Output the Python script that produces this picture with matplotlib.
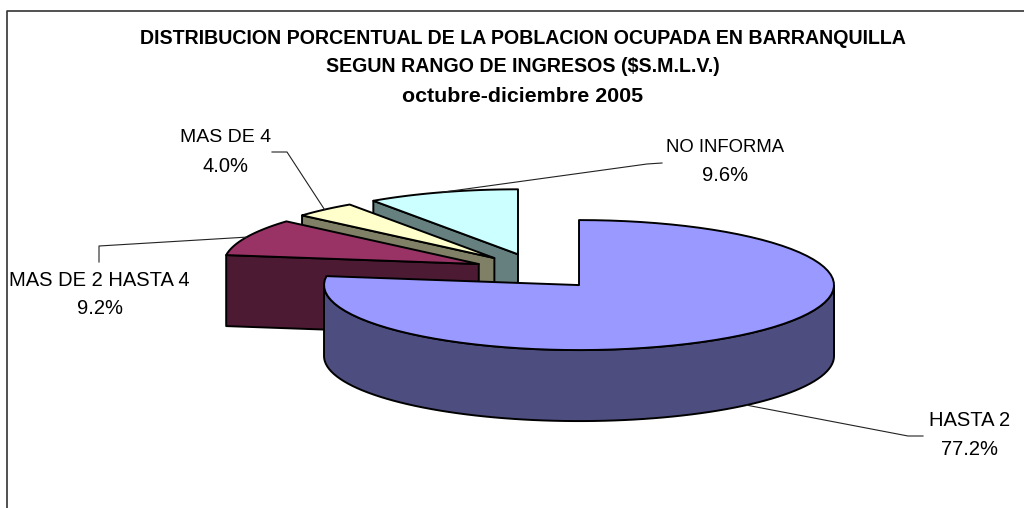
# 3D style pie chart, ingresos Barranquilla
import numpy as np
import matplotlib
matplotlib.use("Agg")
import matplotlib.pyplot as plt
from matplotlib.patches import Polygon

plt.rcParams['font.family'] = ['Liberation Sans', 'DejaVu Sans']

title_lines = ["DISTRIBUCION PORCENTUAL DE LA POBLACION OCUPADA EN BARRANQUILLA",
               "SEGUN RANGO DE INGRESOS ($S.M.L.V.)",
               "octubre-diciembre 2005"]
categories = ["HASTA 2", "MAS DE 2 HASTA 4", "MAS DE 4", "NO INFORMA"]
values = [77.2, 9.2, 4.0, 9.6]
top_colors = ["#9999FF", "#993366", "#FFFFCC", "#CCFFFF"]
side_colors = ["#4D4D80", "#4D1A33", "#808066", "#668080"]

# pie geometry in pixels
cx, cy = 537, 271.5
rx, ry = 255, 65
depth = 71
ex, ey = 64, 18  # explosion

# label centre, size and leader elbows for each slice
label_pos = [(969.5, 420), (99.5, 279), (225.5, 137), (725.5, 146)]
label_size = [14.5, 14.5, 14, 13.3]
elbows = [[(908, 436), (923, 436)],
          [(99, 246), (99, 262)],
          [(287, 152), (272, 152)],
          [(647, 164), (662, 163)]]


def arc(x0, y0, t0, t1, n=80):
    t = np.radians(np.linspace(t0, t1, n))
    return np.column_stack([x0 + rx * np.sin(t), y0 - ry * np.cos(t)])


fig = plt.figure(figsize=(10.24, 5.08), dpi=100)
ax = fig.add_axes([0, 0, 1, 1])
ax.set_xlim(0, 1024)
ax.set_ylim(508, 0)
ax.axis('off')

# outer frame, only left and top survive the crop
ax.plot([7, 7, 1024], [508, 11, 11], color='#333333', lw=1.2)

edges = np.cumsum([0] + values) * 3.6
slices = []
for i in range(len(values)):
    t0, t1 = edges[i], edges[i + 1]
    mid = np.radians((t0 + t1) / 2)
    x0 = cx + ex * np.sin(mid)
    y0 = cy - ey * np.cos(mid)
    slices.append((i, t0, t1, mid, x0, y0))

# back to front
for i, t0, t1, mid, x0, y0 in [slices[3], slices[2], slices[1], slices[0]]:
    lw = 1.4
    # radial wall on the start edge, faces the viewer for the back slices
    if i > 0:
        p = arc(x0, y0, t0, t0, 1)[0]
        wall = [(x0, y0), tuple(p), (p[0], p[1] + depth), (x0, y0 + depth)]
        ax.add_patch(Polygon(wall, fc=side_colors[i], ec='black', lw=lw, joinstyle='round'))
    # outer wall, only the front half of the ellipse
    a0, a1 = max(t0, 90), min(t1, 270)
    if a1 > a0:
        top = arc(x0, y0, a0, a1)
        bottom = top[::-1] + [0, depth]
        ax.add_patch(Polygon(np.vstack([top, bottom]), fc=side_colors[i], ec='black', lw=lw))
    face = np.vstack([[(x0, y0)], arc(x0, y0, t0, t1)])
    ax.add_patch(Polygon(face, fc=top_colors[i], ec='black', lw=lw, joinstyle='round'))

# labels and leader lines
for i, t0, t1, mid, x0, y0 in slices:
    ax_x = x0 + rx * np.sin(mid)
    ax_y = y0 - ry * np.cos(mid)
    if 90 < np.degrees(mid) < 270:
        ax_y += depth
    pts = [(ax_x, ax_y)] + elbows[i]
    ax.plot([p[0] for p in pts], [p[1] for p in pts], color='#222222', lw=0.8, zorder=5)
    lx, ly = label_pos[i]
    ax.text(lx, ly + 1, categories[i], ha='center', va='center', fontsize=label_size[i], color='black')
    ax.text(lx, ly + 29.5, f"{values[i]:.1f}%", ha='center', va='center', fontsize=14.5, color='black')

for line, y, size in zip(title_lines, [38, 67, 96], [14.1, 14.1, 15.4]):
    ax.text(523, y, line, ha='center', va='center', fontsize=size, fontweight='bold', color='black')

fig.savefig("out.png", dpi=100)
